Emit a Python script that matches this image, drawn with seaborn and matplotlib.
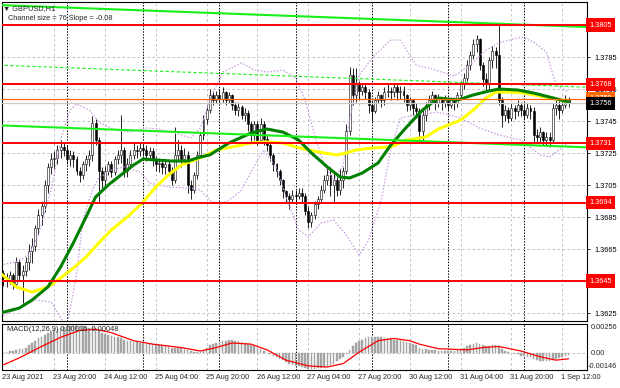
"""
GBPUSD H1 -- price channel, support/resistance levels, MA, Bollinger, MACD
"""
import numpy as np
import pandas as pd
import matplotlib
matplotlib.use("Agg")
import matplotlib.pyplot as plt
import seaborn as sns

# -- Data (bar index = hours since 23 Aug 2021 00:00) --------------------------
FIRST_BAR = 4
first_open = 1.3650

close_23 = [1.3647, 1.3645, 1.3649, 1.3643, 1.3657, 1.3649, 1.3651, 1.3657, 1.3664, 1.3667,
            1.3678, 1.3686, 1.3692, 1.3705, 1.3716, 1.3721, 1.3722, 1.3727, 1.3729, 1.3727]
high_23 = [1.3652, 1.3650, 1.3651, 1.3650, 1.3660, 1.3659, 1.3655, 1.3660, 1.3668, 1.3672,
           1.3680, 1.3690, 1.3695, 1.3708, 1.3719, 1.3725, 1.3726, 1.3730, 1.3733, 1.3732]
low_23 = [1.3642, 1.3641, 1.3643, 1.3640, 1.3642, 1.3645, 1.3631, 1.3648, 1.3652, 1.3656,
          1.3664, 1.3674, 1.3680, 1.3688, 1.3700, 1.3712, 1.3715, 1.3718, 1.3722, 1.3723]

close_24 = [1.3721, 1.3724, 1.3721, 1.3714, 1.3711, 1.3718, 1.3721, 1.3724, 1.3744, 1.3733, 1.3714, 1.3708,
            1.3714, 1.3718, 1.3713, 1.3721, 1.3724, 1.3727, 1.3714, 1.3718, 1.3724, 1.3727, 1.3726, 1.3728]
high_24 = [1.3730, 1.3727, 1.3726, 1.3723, 1.3716, 1.3720, 1.3724, 1.3727, 1.3748, 1.3746, 1.3735, 1.3716,
           1.3717, 1.3720, 1.3720, 1.3723, 1.3727, 1.3749, 1.3729, 1.3722, 1.3727, 1.3732, 1.3730, 1.3732]
low_24 = [1.3718, 1.3717, 1.3716, 1.3711, 1.3707, 1.3709, 1.3714, 1.3717, 1.3720, 1.3730, 1.3694, 1.3703,
          1.3705, 1.3711, 1.3710, 1.3711, 1.3718, 1.3719, 1.3710, 1.3710, 1.3716, 1.3721, 1.3722, 1.3723]

close_25 = [1.3727, 1.3724, 1.3726, 1.3721, 1.3718, 1.3719, 1.3716, 1.3718, 1.3714, 1.3708, 1.3724, 1.3727,
            1.3721, 1.3724, 1.3705, 1.3702, 1.3711, 1.3724, 1.3736, 1.3746, 1.3752, 1.3761, 1.3758, 1.3761]
high_25 = [1.3731, 1.3730, 1.3729, 1.3728, 1.3723, 1.3722, 1.3721, 1.3720, 1.3720, 1.3716, 1.3741, 1.3733,
           1.3730, 1.3728, 1.3726, 1.3708, 1.3713, 1.3726, 1.3738, 1.3749, 1.3755, 1.3765, 1.3764, 1.3764]
low_25 = [1.3723, 1.3720, 1.3721, 1.3717, 1.3714, 1.3713, 1.3712, 1.3712, 1.3711, 1.3705, 1.3706, 1.3720,
          1.3716, 1.3718, 1.3700, 1.3696, 1.3700, 1.3709, 1.3722, 1.3733, 1.3743, 1.3750, 1.3755, 1.3756]

close_26 = [1.3759, 1.3763, 1.3758, 1.3761, 1.3755, 1.3752, 1.3754, 1.3749, 1.3750, 1.3743, 1.3736, 1.3743,
            1.3733, 1.3743, 1.3734, 1.3730, 1.3724, 1.3718, 1.3714, 1.3708, 1.3701, 1.3698, 1.3696, 1.3699]
high_26 = [1.3765, 1.3766, 1.3764, 1.3763, 1.3762, 1.3757, 1.3757, 1.3755, 1.3753, 1.3752, 1.3745, 1.3745,
           1.3745, 1.3747, 1.3745, 1.3736, 1.3731, 1.3725, 1.3719, 1.3715, 1.3709, 1.3702, 1.3700, 1.3702]
low_26 = [1.3756, 1.3757, 1.3755, 1.3756, 1.3752, 1.3749, 1.3748, 1.3746, 1.3745, 1.3739, 1.3731, 1.3733,
          1.3730, 1.3731, 1.3730, 1.3726, 1.3720, 1.3714, 1.3710, 1.3705, 1.3697, 1.3694, 1.3690, 1.3694]

close_27 = [1.3698, 1.3700, 1.3698, 1.3689, 1.3682, 1.3686, 1.3693, 1.3696, 1.3702, 1.3708, 1.3711, 1.3705,
            1.3708, 1.3702, 1.3708, 1.3714, 1.3739, 1.3774, 1.3761, 1.3768, 1.3764, 1.3766, 1.3763, 1.3755]
high_27 = [1.3702, 1.3703, 1.3703, 1.3700, 1.3692, 1.3688, 1.3695, 1.3698, 1.3705, 1.3711, 1.3716, 1.3716,
           1.3713, 1.3710, 1.3715, 1.3716, 1.3743, 1.3779, 1.3778, 1.3778, 1.3770, 1.3769, 1.3768, 1.3765]
low_27 = [1.3693, 1.3696, 1.3694, 1.3686, 1.3678, 1.3679, 1.3684, 1.3690, 1.3694, 1.3700, 1.3705, 1.3698,
          1.3694, 1.3698, 1.3699, 1.3703, 1.3712, 1.3736, 1.3755, 1.3757, 1.3758, 1.3761, 1.3759, 1.3750]

close_30 = [1.3751, 1.3758, 1.3761, 1.3758, 1.3763, 1.3764, 1.3763, 1.3766, 1.3763, 1.3764, 1.3761, 1.3755,
            1.3758, 1.3753, 1.3751, 1.3739, 1.3749, 1.3755, 1.3758, 1.3761, 1.3756, 1.3759, 1.3756, 1.3758]
high_30 = [1.3758, 1.3760, 1.3764, 1.3762, 1.3766, 1.3768, 1.3766, 1.3769, 1.3768, 1.3767, 1.3767, 1.3762,
           1.3760, 1.3759, 1.3756, 1.3753, 1.3752, 1.3757, 1.3761, 1.3764, 1.3762, 1.3762, 1.3760, 1.3761]
low_30 = [1.3745, 1.3750, 1.3756, 1.3754, 1.3755, 1.3760, 1.3758, 1.3760, 1.3758, 1.3759, 1.3757, 1.3751,
          1.3752, 1.3749, 1.3747, 1.3733, 1.3732, 1.3745, 1.3752, 1.3756, 1.3752, 1.3754, 1.3752, 1.3754]

close_31 = [1.3755, 1.3758, 1.3756, 1.3761, 1.3768, 1.3772, 1.3780, 1.3786, 1.3793, 1.3796, 1.3780, 1.3771,
            1.3768, 1.3783, 1.3789, 1.3786, 1.3758, 1.3749, 1.3752, 1.3747, 1.3753, 1.3751, 1.3755, 1.3752]
high_31 = [1.3760, 1.3760, 1.3760, 1.3763, 1.3770, 1.3775, 1.3783, 1.3789, 1.3796, 1.3799, 1.3797, 1.3782,
           1.3775, 1.3785, 1.3792, 1.3791, 1.3806, 1.3760, 1.3755, 1.3754, 1.3756, 1.3755, 1.3758, 1.3757]
low_31 = [1.3752, 1.3753, 1.3752, 1.3754, 1.3759, 1.3765, 1.3770, 1.3777, 1.3784, 1.3788, 1.3777, 1.3767,
          1.3763, 1.3765, 1.3778, 1.3778, 1.3755, 1.3741, 1.3745, 1.3744, 1.3745, 1.3746, 1.3748, 1.3748]

close_01 = [1.3749, 1.3753, 1.3751, 1.3736, 1.3735, 1.3738, 1.3733, 1.3735, 1.3733, 1.3753, 1.3755, 1.3752,
            1.3755, 1.3758, 1.3756]
high_01 = [1.3755, 1.3756, 1.3755, 1.3754, 1.3740, 1.3741, 1.3739, 1.3738, 1.3738, 1.3756, 1.3758, 1.3758,
           1.3758, 1.3761, 1.3760]
low_01 = [1.3746, 1.3747, 1.3746, 1.3731, 1.3731, 1.3732, 1.3730, 1.3730, 1.3729, 1.3731, 1.3749, 1.3746,
          1.3750, 1.3753, 1.3754]

# MACD histogram, one value per bar
macd_23 = [0.0000, 0.0001, 0.0002, 0.0002, 0.0003, 0.0004, 0.0004, 0.0005, 0.0007, 0.0009,
           0.0011, 0.0013, 0.0014, 0.0016, 0.0018, 0.0019, 0.0020, 0.0021, 0.0022, 0.0023]
macd_24 = [0.0024, 0.0024, 0.0025, 0.0025, 0.0024, 0.0024, 0.0023, 0.0022, 0.0023, 0.0022, 0.0020, 0.0018,
           0.0017, 0.0016, 0.0015, 0.0014, 0.0014, 0.0013, 0.0012, 0.0011, 0.0011, 0.0010, 0.0010, 0.0009]
macd_25 = [0.0009, 0.0008, 0.0008, 0.0008, 0.0007, 0.0007, 0.0007, 0.0006, 0.0006, 0.0005, 0.0005, 0.0005,
           0.0005, 0.0004, 0.0003, 0.0002, 0.0001, 0.0001, 0.0001, 0.0003, 0.0005, 0.0007, 0.0008, 0.0009]
macd_26 = [0.0010, 0.0011, 0.0011, 0.0012, 0.0012, 0.0011, 0.0011, 0.0010, 0.0009, 0.0008, 0.0007, 0.0006,
           0.0005, 0.0004, 0.0002, 0.0000, -0.0001, -0.0002, -0.0003, -0.0005, -0.0006, -0.0008, -0.0009, -0.0010]
macd_27 = [-0.0011, -0.0011, -0.0012, -0.0013, -0.0014, -0.0014, -0.0014, -0.0013, -0.0013, -0.0012, -0.0011, -0.0010,
           -0.0009, -0.0007, -0.0005, -0.0003, -0.0001, 0.0003, 0.0006, 0.0009, 0.0011, 0.0012, 0.0013, 0.0014]
macd_30 = [0.0014, 0.0014, 0.0014, 0.0014, 0.0013, 0.0013, 0.0013, 0.0012, 0.0012, 0.0012, 0.0011, 0.0010,
           0.0009, 0.0008, 0.0007, 0.0005, 0.0004, 0.0004, 0.0003, 0.0003, 0.0003, 0.0002, 0.0002, 0.0002]
macd_31 = [0.0002, 0.0002, 0.0002, 0.0003, 0.0004, 0.0005, 0.0006, 0.0007, 0.0008, 0.0009, 0.0008, 0.0007,
           0.0006, 0.0006, 0.0007, 0.0007, 0.0006, 0.0004, 0.0002, 0.0001, 0.0000, -0.0001, -0.0001, -0.0002]
macd_01 = [-0.0002, -0.0003, -0.0003, -0.0005, -0.0006, -0.0007, -0.0007, -0.0007, -0.0007, -0.0006, -0.0005,
           -0.0004, -0.0003, -0.0002, -0.00016]

# MACD signal line (bar, value)
signal_bar = [4, 9, 15, 22, 28, 33, 38, 45, 51, 60, 66, 71, 76, 82, 87, 93, 100, 106, 111, 116,
              122, 127, 132, 135, 141, 150, 155, 160, 167, 173, 178, 182]
signal_val = [-0.0010, -0.0004, 0.00046, 0.0014, 0.0020, 0.0021, 0.0018, 0.0011, 0.0008, 0.0005, 0.0002,
              0.0005, 0.0009, 0.0008, 0.0003, -0.0006, -0.0011, -0.0012, -0.0009, 0.0001, 0.0011, 0.0013,
              0.0011, 0.0008, 0.0004, 0.0003, 0.0005, 0.0006, 0.0002, -0.0003, -0.0006, -0.00048]

# fast MA (dark green) and slow MA (yellow), (bar, price)
ma_fast_bar = [3, 9, 13, 18, 22, 26, 30, 33, 37, 41, 45, 48, 52, 57, 62, 66, 69, 75, 82, 87, 92, 97,
               101, 106, 110, 113, 117, 122, 126, 131, 136, 141, 147, 152, 157, 160, 166, 171, 176, 182]
ma_fast = [1.36250, 1.36281, 1.36331, 1.36413, 1.36538, 1.36688, 1.36850, 1.36975, 1.37050, 1.37113,
           1.37175, 1.37213, 1.37206, 1.37200, 1.37200, 1.37225, 1.37238, 1.37313, 1.37375, 1.37400,
           1.37381, 1.37331, 1.37250, 1.37163, 1.37100, 1.37094, 1.37125, 1.37188, 1.37300, 1.37413,
           1.37519, 1.37594, 1.37581, 1.37613, 1.37638, 1.37650, 1.37644, 1.37625, 1.37600, 1.37569]
ma_slow_bar = [3, 8, 13, 18, 22, 26, 30, 34, 38, 43, 48, 52, 56, 60, 66, 71, 76, 82, 87, 92, 96, 100,
               105, 109, 112, 115, 120, 126, 131, 137, 141, 148, 152, 156, 159, 163, 168, 173, 178, 182]
ma_slow = [1.36500, 1.36413, 1.36381, 1.36413, 1.36469, 1.36531, 1.36600, 1.36688, 1.36769, 1.36850,
           1.36944, 1.37038, 1.37113, 1.37175, 1.37219, 1.37269, 1.37288, 1.37313, 1.37319, 1.37313,
           1.37288, 1.37269, 1.37250, 1.37238, 1.37250, 1.37269, 1.37281, 1.37288, 1.37331, 1.37350,
           1.37400, 1.37456, 1.37519, 1.37594, 1.37631, 1.37631, 1.37625, 1.37606, 1.37588, 1.37569]

# Bollinger bands (bar, price)
bb_up_bar = [3, 8, 12, 15, 19, 22, 25, 27, 31, 34, 39, 44, 49, 53, 58, 63, 66, 69, 73, 77, 79, 83,
             87, 92, 96, 99, 102, 105, 108, 111, 113, 116, 121, 126, 129, 134, 140, 146, 151, 156, 160,
             167, 171, 175, 178, 182]
bb_up = [1.36550, 1.36569, 1.36613, 1.36738, 1.37019, 1.37331, 1.37519, 1.37556, 1.37519, 1.37444,
         1.37394, 1.37381, 1.37406, 1.37400, 1.37375, 1.37344, 1.37406, 1.37581, 1.37756, 1.37794,
         1.37813, 1.37769, 1.37756, 1.37769, 1.37719, 1.37581, 1.37363, 1.37175, 1.37081, 1.37175,
         1.37456, 1.37738, 1.37863, 1.37956, 1.37956, 1.37800, 1.37769, 1.37731, 1.37800, 1.37894,
         1.37938, 1.37975, 1.37944, 1.37881, 1.37675, 1.37631]
bb_lo_bar = [3, 9, 14, 19, 22, 24, 27, 29, 32, 34, 38, 42, 47, 50, 56, 63, 66, 69, 72, 76, 79, 84,
             86, 90, 93, 97, 100, 104, 108, 112, 116, 119, 123, 126, 129, 134, 141, 148, 154, 160, 167,
             173, 176, 179, 182]
bb_lo = [1.36225, 1.36281, 1.36331, 1.36319, 1.36219, 1.36169, 1.36488, 1.36831, 1.37019, 1.37094,
         1.37144, 1.37163, 1.37131, 1.37063, 1.37038, 1.37031, 1.37019, 1.36956, 1.36925, 1.36969,
         1.37019, 1.37206, 1.37269, 1.37156, 1.36975, 1.36769, 1.36725, 1.36813, 1.36831, 1.36738,
         1.36613, 1.36706, 1.36956, 1.37269, 1.37469, 1.37488, 1.37506, 1.37469, 1.37406, 1.37363,
         1.37331, 1.37238, 1.37225, 1.37269, 1.37319]

# regression channel (two anchor bars each)
channel_bar = [0, 190]
channel_top = [1.38177, 1.38036]
channel_mid = [1.37801, 1.37660]
channel_bot = [1.37425, 1.37284]

levels = [1.3805, 1.3768, 1.3731, 1.3694, 1.3645]
pending_level = 1.3759
bid = 1.3756

price_ticks = [1.3625, 1.3645, 1.3665, 1.3685, 1.3705, 1.3725, 1.3745, 1.3765, 1.3785, 1.3805]
time_bars = [20, 36, 52, 68, 84, 100, 116, 132, 148, 164, 180]
time_labels = ["23 Aug 20:00", "24 Aug 12:00", "25 Aug 04:00", "25 Aug 20:00", "26 Aug 12:00",
               "27 Aug 04:00", "27 Aug 20:00", "30 Aug 12:00", "31 Aug 04:00", "31 Aug 20:00",
               "1 Sep 12:00"]
day_bars = [24, 48, 72, 96, 120, 144, 168]

# -- Style ---------------------------------------------------------------------
sns.set_style("white")
plt.rcParams["font.family"] = ["Liberation Sans", "DejaVu Sans"]
FS = 5.3
RED = "#ff0000"
LIME = "#19f019"
GRID = "#b8b8b8"
BAND = "#c89be0"

close = close_23 + close_24 + close_25 + close_26 + close_27 + close_30 + close_31 + close_01
high = high_23 + high_24 + high_25 + high_26 + high_27 + high_30 + high_31 + high_01
low = low_23 + low_24 + low_25 + low_26 + low_27 + low_30 + low_31 + low_01
macd = macd_23 + macd_24 + macd_25 + macd_26 + macd_27 + macd_30 + macd_31 + macd_01

df = pd.DataFrame({"bar": np.arange(FIRST_BAR, FIRST_BAR + len(close)),
                   "open": [first_open] + close[:-1],
                   "high": high, "low": low, "close": close, "macd": macd})
df["up"] = df["close"] >= df["open"]

fig = plt.figure(figsize=(6.2, 3.88), dpi=100, facecolor="white")
ax = fig.add_axes([2 / 620, 67 / 388, 585 / 620, 319 / 388])
ax2 = fig.add_axes([2 / 620, 18 / 388, 585 / 620, 46 / 388])

XLIM = (3.53, 187.8)

# -- Grids and frames ----------------------------------------------------------
for a in (ax, ax2):
    a.set_xlim(*XLIM)
    for b in time_bars:
        a.axvline(b, color=GRID, lw=0.6, ls=(0, (3, 3)), zorder=0.5)
    for b in day_bars:
        a.axvline(b, color="black", lw=0.7, ls=(0, (1.5, 1.5)), zorder=0.6)
    for s in a.spines.values():
        s.set_color("black")
        s.set_linewidth(0.8)

for p in price_ticks:
    ax.axhline(p, color=GRID, lw=0.6, ls=(0, (3, 3)), zorder=0.5)

# -- Candles -------------------------------------------------------------------
ax.vlines(df["bar"], df["low"], df["high"], color="black", lw=0.6, zorder=2)
body_lo = df[["open", "close"]].min(axis=1)
body_h = (df["close"] - df["open"]).abs().clip(lower=0.00003)
ax.bar(df["bar"], body_h, bottom=body_lo, width=0.62,
       color=np.where(df["up"], "white", "black"), edgecolor="black", linewidth=0.4, zorder=2.1)

# Bollinger bands and moving averages
sns.lineplot(x=bb_up_bar, y=bb_up, ax=ax, color=BAND, lw=0.9, ls=(0, (1.2, 1.4)), zorder=3)
sns.lineplot(x=bb_lo_bar, y=bb_lo, ax=ax, color=BAND, lw=0.9, ls=(0, (1.2, 1.4)), zorder=3)
sns.lineplot(x=ma_slow_bar, y=ma_slow, ax=ax, color="#ffff00", lw=2.2, zorder=4)
sns.lineplot(x=ma_fast_bar, y=ma_fast, ax=ax, color="#008000", lw=2.2, zorder=4.1)

# channel
sns.lineplot(x=channel_bar, y=channel_top, ax=ax, color=LIME, lw=1.5, zorder=5)
sns.lineplot(x=channel_bar, y=channel_bot, ax=ax, color=LIME, lw=1.5, zorder=5)
sns.lineplot(x=channel_bar, y=channel_mid, ax=ax, color=LIME, lw=0.8, ls=(0, (3, 2)), zorder=5)

# levels
ax.axhline(bid, color="#c8c8c8", lw=0.9, zorder=4.5)
ax.axhline(pending_level, color="#ff6a00", lw=0.9, zorder=5)
for lv in levels:
    ax.axhline(lv, color=RED, lw=1.4, zorder=5.5)

ax.set_xlim(*XLIM)
ax.set_ylim(1.3620, 1.38194)
ax.set_xticks([])
ax.yaxis.tick_right()
ax.set_yticks(price_ticks)
# ticks hidden behind the level boxes keep their mark but no label
ax.set_yticklabels(["" if any(abs(p - lv) < 1e-6 for lv in levels) else f"{p:.4f}"
                    for p in price_ticks])
ax.tick_params(axis="y", direction="out", length=2.5, width=0.6, pad=2.5, labelsize=FS, colors="black")
ax.set_xlabel("")
ax.set_ylabel("")


def price_box(a, y, text, fc, z):
    a.annotate(text, xy=(1, y), xycoords=a.get_yaxis_transform(), xytext=(1.6, 0),
               textcoords="offset points", ha="left", va="center", fontsize=FS, color="white",
               annotation_clip=False, zorder=z,
               bbox=dict(boxstyle="square,pad=0.42", fc=fc, ec="none"))


for lv in levels:
    price_box(ax, lv, f"{lv:.4f}", RED, 20)
price_box(ax, pending_level, f"{pending_level:.4f}", "#ff6a00", 21)
price_box(ax, bid, f"{bid:.4f}", "black", 22)

ax.text(0.002, 0.981, "\u25BC GBPUSD,H1", transform=ax.transAxes, fontsize=FS,
        va="center", ha="left", zorder=30)
ax.text(0.0105, 0.947, "Channel size = 76 Slope = -0.08", transform=ax.transAxes,
        fontsize=FS, va="center", ha="left", zorder=30)

# -- MACD panel ----------------------------------------------------------------
ax2.axhline(0, color=GRID, lw=0.6, ls=(0, (3, 3)), zorder=0.5)
ax2.bar(df["bar"], df["macd"], width=0.5, color="#a4a4a4", edgecolor="#a4a4a4",
        linewidth=0.3, zorder=2)
sns.lineplot(x=signal_bar, y=signal_val, ax=ax2, color="red", lw=0.9, zorder=3)
ax2.set_xlim(*XLIM)
ax2.set_ylim(-0.00146, 0.00256)
ax2.set_yticks([])
ax2.set_xticks(time_bars)
ax2.set_xticklabels([])
ax2.tick_params(axis="x", direction="out", length=2, width=0.6)
ax2.set_xlabel("")
ax2.set_ylabel("")

ax2.text(0.0085, 0.87, "MACD(12,26,9) 0.00016 -0.00048", transform=ax2.transAxes,
         fontsize=FS, va="center", ha="left", zorder=30)
ytr = ax2.get_yaxis_transform()
ax2.text(1.006, 0.00256, "0.00256", transform=ytr, fontsize=FS, va="top", ha="left")
ax2.text(1.006, 0.0, "0.00", transform=ytr, fontsize=FS, va="center", ha="left")
ax2.text(1.002, -0.00146, "-0.00146", transform=ytr, fontsize=FS, va="bottom", ha="left")

xtr = ax2.get_xaxis_transform()
ax2.text(0.0, -0.17, "23 Aug 2021", transform=ax2.transAxes, fontsize=FS, va="center", ha="left")
for b, lab in zip(time_bars, time_labels):
    ax2.text(b - 0.3, -0.17, lab, transform=xtr, fontsize=FS, va="center", ha="left")

fig.savefig("out.png", dpi=100, facecolor="white")
